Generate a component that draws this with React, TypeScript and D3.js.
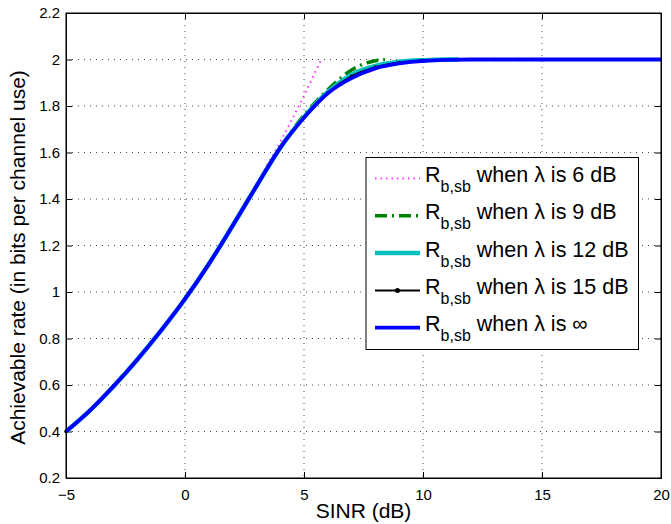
import React, { useRef, useEffect } from 'react';
import * as d3 from 'd3';

// SINR (dB) sample points and achievable rates
const sinr6 = [-5, -4, -3, -2, -1, 0, 1, 2, 3, 4, 5, 5.7];
const rate6 = [0.4, 0.49, 0.595, 0.71, 0.835, 0.97, 1.12, 1.285, 1.465, 1.645, 1.845, 1.995];

const sinr9 = [-5, -4, -3, -2, -1, 0, 1, 2, 3, 4, 5, 6, 7, 8, 8.4];
const rate9 = [0.4, 0.49, 0.595, 0.71, 0.835, 0.97, 1.12, 1.285, 1.455, 1.622, 1.76, 1.87, 1.955, 1.995, 2.0];

const sinr12 = [-5, -4, -3, -2, -1, 0, 1, 2, 3, 4, 5, 6, 7, 8, 9, 10, 11, 11.5];
const rate12 = [0.4, 0.49, 0.595, 0.71, 0.835, 0.97, 1.12, 1.285, 1.455, 1.62, 1.752, 1.86, 1.935, 1.972, 1.99, 1.997, 2.0, 2.0];

const sinr15 = [-5, -4, -3, -2, -1, 0, 1, 2, 3, 4, 5, 6, 7, 8, 9, 10, 11, 12, 13, 14, 14.6];
const rate15 = [0.4, 0.49, 0.595, 0.71, 0.835, 0.97, 1.12, 1.285, 1.455, 1.62, 1.751, 1.857, 1.928, 1.967, 1.987, 1.996, 1.999, 2.0, 2.0, 2.0, 2.0];

const sinrInf = [-5, -4, -3, -2, -1, 0, 1, 2, 3, 4, 5, 6, 7, 8, 9, 10, 11, 12, 13, 14, 15, 16, 17, 18, 19, 20];
const rateInf = [0.4, 0.49, 0.595, 0.71, 0.835, 0.97, 1.12, 1.285, 1.455, 1.62, 1.75, 1.855, 1.92, 1.962, 1.983, 1.993, 1.998, 2.0, 2.0, 2.0, 2.0, 2.0, 2.0, 2.0, 2.0, 2.0];

const legendLabels = ['when \u03bb is 6 dB', 'when \u03bb is 9 dB', 'when \u03bb is 12 dB', 'when \u03bb is 15 dB', 'when \u03bb is \u221e'];

const xTicks = [-5, 0, 5, 10, 15, 20];
const yTicks = [0.2, 0.4, 0.6, 0.8, 1, 1.2, 1.4, 1.6, 1.8, 2, 2.2];

const FONT = '"Liberation Sans", Arial, Helvetica, sans-serif';

const App = () => {
  const ref = useRef<SVGSVGElement>(null);

  useEffect(() => {
    const svg = d3.select(ref.current);
    svg.selectAll('*').remove();

    const margin = { top: 13, right: 10, bottom: 46, left: 66 };
    const width = 671 - margin.left - margin.right;
    const height = 524 - margin.top - margin.bottom;

    const x = d3.scaleLinear().domain([-5, 20]).range([0, width]);
    const y = d3.scaleLinear().domain([0.2, 2.2]).range([height, 0]);

    const g = svg.append('g').attr('transform', `translate(${margin.left},${margin.top})`);

    // dotted grid
    g.append('g')
      .selectAll('line')
      .data(xTicks.slice(1, -1))
      .join('line')
      .attr('x1', d => x(d)).attr('x2', d => x(d))
      .attr('y1', 0).attr('y2', height)
      .attr('stroke', '#444').attr('stroke-width', 1)
      .attr('stroke-dasharray', '1,5');
    g.append('g')
      .selectAll('line')
      .data(yTicks.slice(1, -1))
      .join('line')
      .attr('y1', d => y(d)).attr('y2', d => y(d))
      .attr('x1', 0).attr('x2', width)
      .attr('stroke', '#444').attr('stroke-width', 1)
      .attr('stroke-dasharray', '1,5');

    const fmt = (d: number) => String(+d.toFixed(1)).replace('-', '\u2212');

    // axes with inward ticks on all sides
    const bottom = g.append('g').attr('transform', `translate(0,${height})`)
      .call(d3.axisBottom(x).tickValues(xTicks).tickSize(-6).tickPadding(10).tickFormat(d => fmt(+d)));
    const left = g.append('g')
      .call(d3.axisLeft(y).tickValues(yTicks).tickSize(-6).tickPadding(10).tickFormat(d => fmt(+d)));
    g.append('g').call(d3.axisTop(x).tickValues(xTicks).tickSize(-6).tickFormat(() => ''));
    g.append('g').attr('transform', `translate(${width},0)`)
      .call(d3.axisRight(y).tickValues(yTicks).tickSize(-6).tickFormat(() => ''));

    g.selectAll('.domain').attr('stroke', '#000');
    g.selectAll('.tick line').attr('stroke', '#000');
    [bottom, left].forEach(a => a.selectAll('text')
      .attr('font-family', FONT).attr('font-size', 15).attr('fill', '#000'));
    bottom.selectAll('text').attr('dy', '0.8em');
    left.selectAll('text').attr('dx', '4');

    const line = d3.line<[number, number]>()
      .x(d => x(d[0]))
      .y(d => y(d[1]))
      .curve(d3.curveMonotoneX);

    const zip = (xs: number[], ys: number[]) => xs.map((v, i) => [v, ys[i]] as [number, number]);

    const styles = [
      { color: '#ff33ff', width: 2, dash: '1.5,4' },
      { color: '#008000', width: 3.5, dash: '12,5,2,5' },
      { color: '#00bfbf', width: 4.5, dash: null },
      { color: '#000000', width: 2, dash: null },
      { color: '#0000ff', width: 3.8, dash: null },
    ];
    const series = [
      zip(sinr6, rate6),
      zip(sinr9, rate9),
      zip(sinr12, rate12),
      zip(sinr15, rate15),
      zip(sinrInf, rateInf),
    ];

    const plot = g.append('g');
    series.forEach((s, i) => {
      plot.append('path')
        .datum(s)
        .attr('fill', 'none')
        .attr('stroke', styles[i].color)
        .attr('stroke-width', styles[i].width)
        .attr('stroke-dasharray', styles[i].dash)
        .attr('d', line);
      if (i === 3) {
        plot.append('g').selectAll('circle').data(s).join('circle')
          .attr('cx', d => x(d[0])).attr('cy', d => y(d[1])).attr('r', 1.8).attr('fill', '#000');
      }
    });

    // frame on top
    g.append('rect').attr('width', width).attr('height', height)
      .attr('fill', 'none').attr('stroke', '#000').attr('stroke-width', 1);

    // legend
    const lg = svg.append('g');
    const lx = 366, ly = 157.5, lw = 272.5, lh = 192;
    lg.append('rect').attr('x', lx).attr('y', ly).attr('width', lw).attr('height', lh)
      .attr('fill', '#fff').attr('stroke', '#000').attr('stroke-width', 1);
    legendLabels.forEach((label, i) => {
      const cy = 178.5 + i * 37.3;
      lg.append('line').attr('x1', 375).attr('x2', 420).attr('y1', cy).attr('y2', cy)
        .attr('stroke', styles[i].color).attr('stroke-width', styles[i].width)
        .attr('stroke-dasharray', styles[i].dash);
      if (i === 3) {
        lg.append('circle').attr('cx', 397.5).attr('cy', cy).attr('r', 2.5).attr('fill', '#000');
      }
      const t = lg.append('text').attr('x', 425).attr('y', cy + 3.5)
        .attr('font-family', FONT).attr('font-size', 21.5).attr('fill', '#000');
      t.append('tspan').text('R');
      t.append('tspan').attr('dy', 10).attr('font-size', 16).text('b,sb');
      t.append('tspan').attr('dy', -10).text(' ' + label);
    });

    // axis labels
    svg.append('text').attr('x', margin.left + width / 2).attr('y', 518)
      .attr('text-anchor', 'middle').attr('font-family', FONT).attr('font-size', 21)
      .text('SINR (dB)');
    svg.append('text')
      .attr('transform', `translate(25,${margin.top + height / 2 + 12}) rotate(-90)`)
      .attr('text-anchor', 'middle').attr('font-family', FONT).attr('font-size', 21)
      .text('Achievable rate (in bits per channel use)');
  }, []);

  return (
    <svg ref={ref} width={671} height={524}
      style={{ position: 'absolute', left: 0, top: 0, background: '#fff' }} />
  );
};

export default App;
